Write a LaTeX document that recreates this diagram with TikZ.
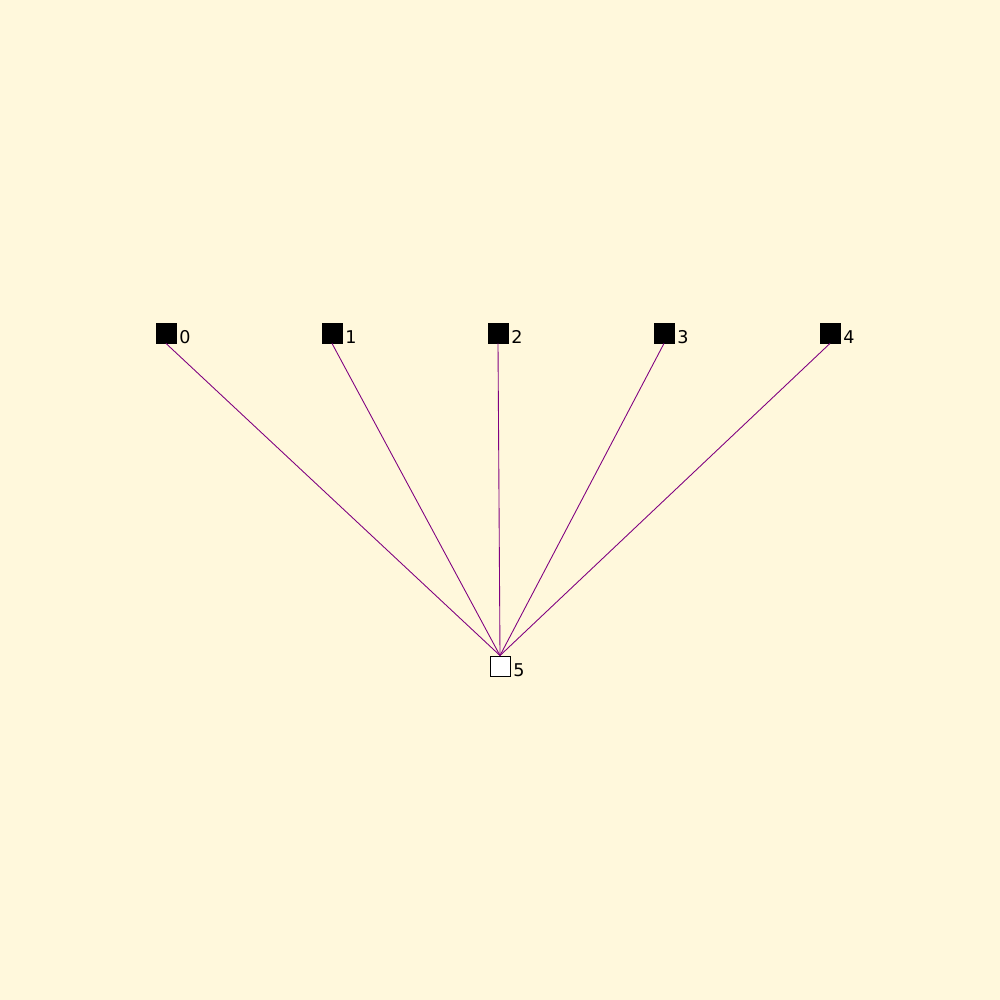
\documentclass[tikz,border=0pt]{standalone}
\usepackage{fontspec}
\setmainfont{DejaVu Sans}
\definecolor{bgcream}{RGB}{255,248,220}
\definecolor{edgepurple}{RGB}{128,0,128}
\usetikzlibrary{positioning}

\begin{document}
\begin{tikzpicture}[every node/.style={font=\fontsize{10}{11}\selectfont},
  sq/.style={draw=black, line width=0.5pt, minimum size=0.4cm, inner sep=0pt},
  lbl/.style={anchor=base west, inner sep=0pt},
  ln/.style={draw=edgepurple, line width=0.5pt}]
\fill[bgcream] (0,0) rectangle (20,20);
\useasboundingbox (0,0) rectangle (20,20);
% top row
\foreach \i in {0,...,4} {
  \node[sq, fill=black] (n\i) at ({3.32+3.32*\i},13.34) {};
  \node[lbl] (l\i) at ([xshift=0.05cm]n\i.south east) {\i};
}
% sink
\node[sq, fill=white] (n5) at (10,6.68) {};
\node[lbl] (l5) at ([xshift=0.05cm]n5.south east) {5};
% edges
\foreach \i in {0,...,4}
  \draw[ln] (n\i.south) -- (n5.north);
\end{tikzpicture}
\end{document}
